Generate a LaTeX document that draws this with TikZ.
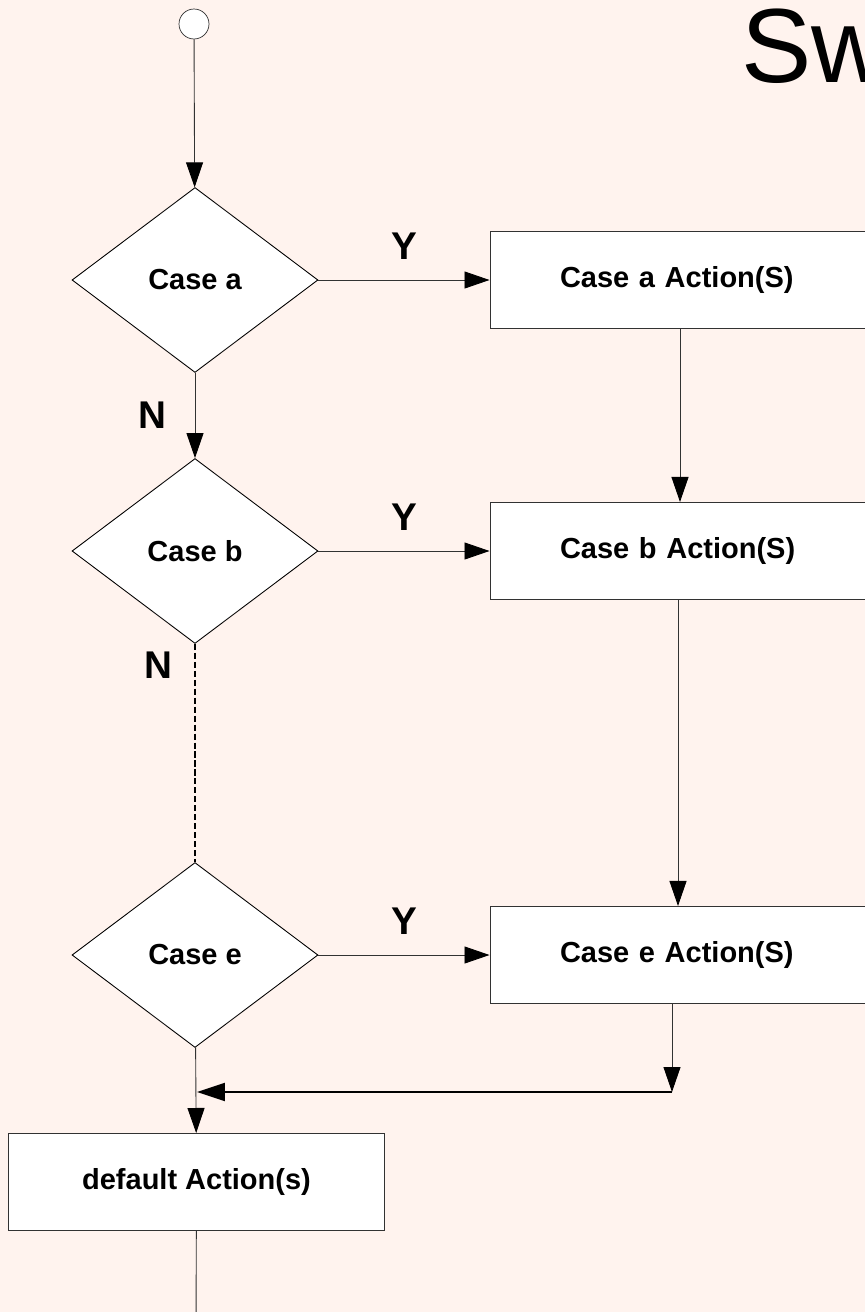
\documentclass[tikz,border=0pt]{standalone}
\usepackage{fontspec}
\setmainfont{Liberation Sans}
\usetikzlibrary{positioning,arrows.meta,shapes.geometric}
\definecolor{bgpink}{RGB}{255,243,238}
\definecolor{edgegray}{RGB}{50,50,50}

\begin{document}
\begin{tikzpicture}[
    x=0.02cm, y=-0.02cm,
    decision/.style={diamond, draw=black, fill=white, line width=0.5pt, minimum width=4.92cm, minimum height=3.7cm, inner sep=0pt, font=\bfseries\fontsize{16.5}{18}\selectfont},
    action/.style={rectangle, draw=edgegray, fill=white, line width=0.6pt, minimum height=1.94cm, minimum width=9cm, text width=8.6cm, align=left, font=\bfseries\fontsize{16.5}{18}\selectfont},
    flow/.style={-{Triangle[length=0.5cm, width=0.34cm, color=black]}, draw=edgegray, line width=0.5pt},
    yn/.style={font=\bfseries\fontsize{22}{24}\selectfont}
]

% Page and background
\useasboundingbox (0,0) rectangle (865,1312);
\fill[bgpink] (0,0) rectangle (865,1312);
\clip (0,0) rectangle (865,1312);

% Title
\node[anchor=base west, inner sep=0pt, font=\fontsize{60}{60}\selectfont] (title) at (741,82) {Sw};

% Start
\node[circle, draw=edgegray, fill=white, minimum size=0.6cm, inner sep=0pt] (start) at (194,24) {};

% Decisions
\node[decision] (casea) at (195,280) {Case a};
\node[decision] (caseb) at (195,551) {Case b};
\node[decision] (casee) at (195,955) {Case e};

% Actions
\node[action] (acta) at (715,280) {\hspace*{1.2cm}Case a Action(S)};
\node[action] (actb) at (715,551) {\hspace*{1.2cm}Case b Action(S)};
\node[action] (acte) at (715,955) {\hspace*{1.2cm}Case e Action(S)};
\node[action, minimum width=7.54cm, text width={}, align=center] (actdef) at (196.5,1182) {default Action(s)};

% Join points
\coordinate (merge) at (672,1092);
\coordinate (join) at (197,1092);
\coordinate (tail) at (196,1330);

% Flow down the left
\draw[flow] (start) -- (casea);
\draw[flow] (casea) -- node[yn, left=0.45cm, pos=0.5] (na) {N} (caseb);
\draw[black, line width=0.8pt, dash pattern=on 3.5pt off 1.6pt] (caseb) -- (casee);
\node[yn] (nb) at (158,665) {N};
\draw[flow] (casee) -- (actdef);
\draw[edgegray, line width=0.5pt] (actdef) -- (tail);

% Yes branches
\draw[flow] (casea.east) -- node[yn, above=0.28cm] (ya) {Y} (acta.west);
\draw[flow] (caseb.east) -- node[yn, above=0.28cm] (yb) {Y} (actb.west);
\draw[flow] (casee.east) -- node[yn, above=0.28cm] (ye) {Y} (acte.west);

% Action chain
\draw[flow] (acta.south -| 680,0) -- (actb.north -| 680,0);
\draw[flow] (actb.south -| 678,0) -- (acte.north -| 678,0);
\draw[flow] (acte.south -| merge) -- (merge);
\draw[-{Triangle[length=0.56cm, width=0.36cm]}, black, line width=1.2pt] (merge) -- (join);

\end{tikzpicture}
\end{document}
